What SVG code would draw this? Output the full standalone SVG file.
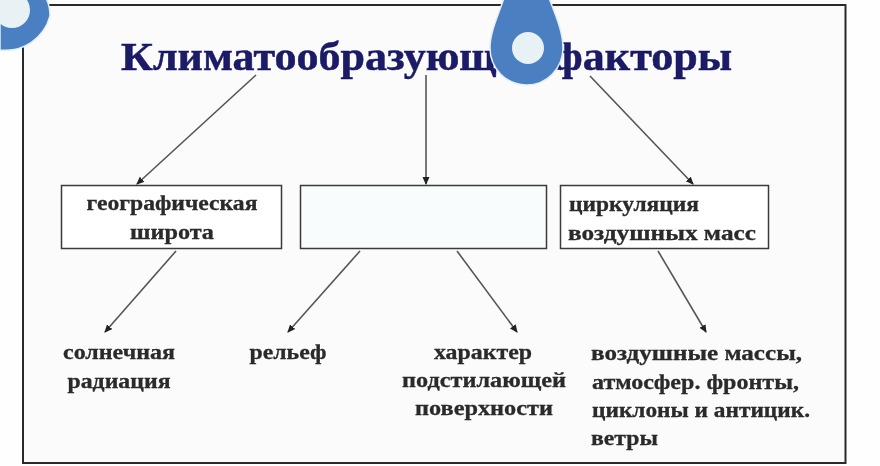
<svg xmlns="http://www.w3.org/2000/svg" width="880" height="466" viewBox="0 0 880 466">
<style>
text{font-family:"Liberation Serif","DejaVu Serif",serif;font-weight:bold;fill:#2a2a2a;font-size:22px;stroke:#2a2a2a;stroke-width:.3;filter:url(#s)}
.t{fill:#1a1a66;stroke:#1a1a66;stroke-width:.5;font-size:41px}
.b{fill:#fff;stroke:#3a3a3a;stroke-width:1.5}
.c line{stroke:#555;stroke-width:1.6;marker-end:url(#a);filter:url(#l)}
.d{fill:#4a7fc1;stroke:#e3eef5;stroke-width:1.500}
.h{fill:#e8f1f4}
</style>
<defs><marker id="a" markerUnits="userSpaceOnUse" markerWidth="9" markerHeight="9" refX="7" refY="4" orient="auto"><path d="M0 0.500L8 4L0 7.500Z" fill="#222"/></marker>
<filter id="s" x="-5%" y="-20%" width="110%" height="140%"><feGaussianBlur stdDeviation="0.5"/></filter>
<filter id="l" filterUnits="userSpaceOnUse" x="0" y="0" width="880" height="466"><feGaussianBlur stdDeviation="0.4"/></filter></defs>
<rect width="880" height="466" fill="#fefefe"/>
<rect id="frame" x="23" y="5" width="822.500" height="458" fill="#fbfbfb" stroke="#2a2a2a" stroke-width="2"/>
<g id="title"><text class="t" x="121" y="70" textLength="611" lengthAdjust="spacingAndGlyphs">Климатообразующие факторы</text></g>
<g class="c" id="connectors">
<line x1="256" y1="75" x2="137" y2="184"/>
<line x1="426" y1="75" x2="426" y2="184"/>
<line x1="590" y1="76" x2="693" y2="184"/>
<line x1="176" y1="251" x2="105" y2="332"/>
<line x1="360" y1="251" x2="288" y2="332"/>
<line x1="457" y1="251" x2="517" y2="332"/>
<line x1="658" y1="251" x2="706" y2="332"/>
</g>
<g id="geo"><rect class="b" x="61.500" y="185.500" width="220" height="63"/>
<text x="172" y="210" text-anchor="middle" textLength="171" lengthAdjust="spacingAndGlyphs">географическая</text>
<text x="172" y="239" text-anchor="middle" textLength="84" lengthAdjust="spacingAndGlyphs">широта</text></g>
<g id="empty"><rect class="b" x="300.500" y="185.500" width="246" height="63" style="fill:#f8fcfd"/></g>
<g id="circ"><rect class="b" x="560.500" y="185.500" width="208" height="63"/>
<text x="569" y="211" textLength="130" lengthAdjust="spacingAndGlyphs">циркуляция</text>
<text x="568" y="240" textLength="188" lengthAdjust="spacingAndGlyphs">воздушных  масс</text></g>
<g id="sun"><text x="119" y="359" text-anchor="middle" textLength="112" lengthAdjust="spacingAndGlyphs">солнечная</text>
<text x="119" y="388" text-anchor="middle" textLength="103" lengthAdjust="spacingAndGlyphs">радиация</text></g>
<g id="relief"><text x="288" y="359" text-anchor="middle" textLength="77" lengthAdjust="spacingAndGlyphs">рельеф</text></g>
<g id="surface"><text x="483" y="359" text-anchor="middle" textLength="98" lengthAdjust="spacingAndGlyphs">характер</text>
<text x="484" y="387" text-anchor="middle" textLength="164" lengthAdjust="spacingAndGlyphs">подстилающей</text>
<text x="484" y="415" text-anchor="middle" textLength="138" lengthAdjust="spacingAndGlyphs">поверхности</text></g>
<g id="air"><text x="591" y="360" textLength="211" lengthAdjust="spacingAndGlyphs">воздушные  массы,</text>
<text x="592" y="389" textLength="207" lengthAdjust="spacingAndGlyphs">атмосфер. фронты,</text>
<text x="592" y="417" textLength="218" lengthAdjust="spacingAndGlyphs">циклоны и антицик.</text>
<text x="591" y="445" textLength="67" lengthAdjust="spacingAndGlyphs">ветры</text></g>
<path class="d" d="M0 50A46 46 0 0 0 50 16Q50 6 46 -2H0Z"/>
<circle class="h" cx="12" cy="10" r="18"/>
<path class="d" d="M504 -2C498 16 490 32 490 48A36.500 37 0 0 0 563 48C563 32 556 16 549 -2Z"/>
<circle class="h" cx="528" cy="48" r="16"/>
</svg>
